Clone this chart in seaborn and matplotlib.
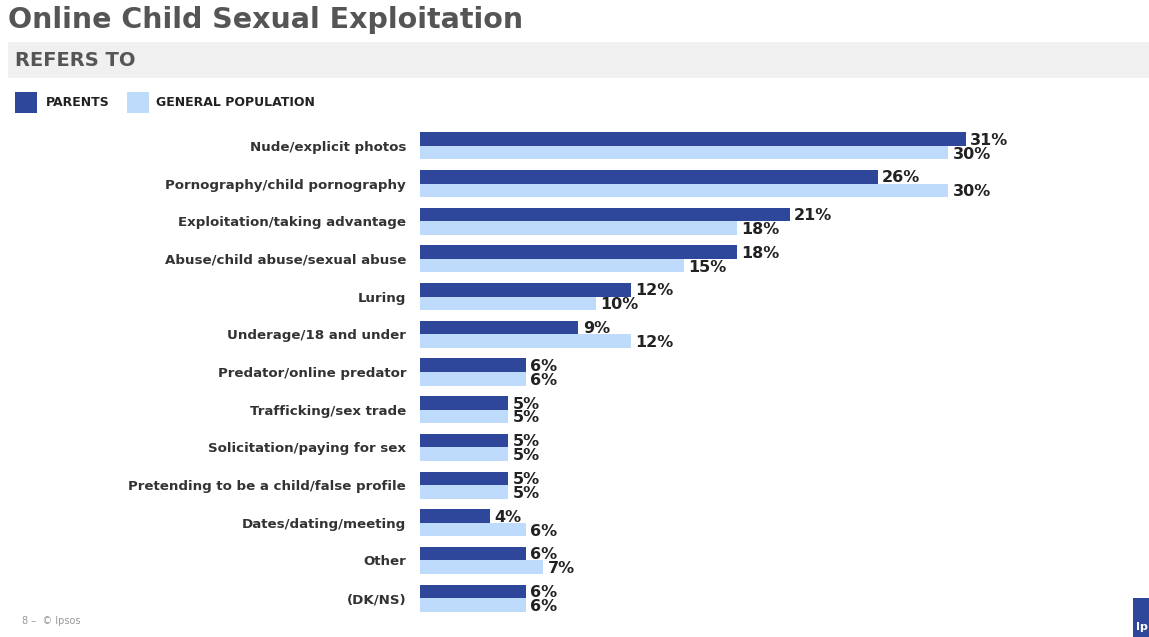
import matplotlib
matplotlib.use("Agg")
import matplotlib.pyplot as plt
import seaborn as sns
import pandas as pd
from matplotlib.patches import Rectangle

categories = [
    "Nude/explicit photos",
    "Pornography/child pornography",
    "Exploitation/taking advantage",
    "Abuse/child abuse/sexual abuse",
    "Luring",
    "Underage/18 and under",
    "Predator/online predator",
    "Trafficking/sex trade",
    "Solicitation/paying for sex",
    "Pretending to be a child/false profile",
    "Dates/dating/meeting",
    "Other",
    "(DK/NS)",
]
parents = [31, 26, 21, 18, 12, 9, 6, 5, 5, 5, 4, 6, 6]
general_population = [30, 30, 18, 15, 10, 12, 6, 5, 5, 5, 6, 7, 6]
series_names = ["PARENTS", "GENERAL POPULATION"]
colors = ["#2E479B", "#BEDBFB"]

df = pd.DataFrame({
    "category": categories * 2,
    "value": parents + general_population,
    "series": [series_names[0]] * len(categories) + [series_names[1]] * len(categories),
})

sns.set_theme(style="white")
plt.rcParams["font.family"] = ["DejaVu Sans"]

W, H = 1149, 637
fig = plt.figure(figsize=(W / 100, H / 100), dpi=100)

def px(x, y):
    return x / W, 1 - y / H

# axes placed in pixel space
left, right, top, bottom = 420, 1060, 127, 617
ax = fig.add_axes([left / W, 1 - bottom / H, (right - left) / W, (bottom - top) / H])

sns.barplot(data=df, y="category", x="value", hue="series", hue_order=series_names,
            order=categories, palette=colors, width=0.72, orient="h",
            saturation=1, ax=ax, legend=False, edgecolor="none")

scale = 17.6  # pixels per percent
ax.set_xlim(0, (right - left) / scale)
ax.set_ylim(len(categories) - 0.5, -0.5)
ax.set_xlabel("")
ax.set_ylabel("")
ax.set_xticks([])
ax.tick_params(axis="y", length=0, pad=10, labelsize=9.6, labelcolor="#333333")
for s in ax.spines.values():
    s.set_visible(False)
for lbl in ax.get_yticklabels():
    lbl.set_fontweight("bold")

# value labels
for i, (p, g) in enumerate(zip(parents, general_population)):
    ax.text(p + 0.25, i - 0.15, f"{p}%", va="center", ha="left", fontsize=11.5,
            fontweight="bold", color="#222222")
    ax.text(g + 0.25, i + 0.22, f"{g}%", va="center", ha="left", fontsize=11.5,
            fontweight="bold", color="#222222")

# title and header band
fig.text(*px(8, 20), "Online Child Sexual Exploitation", fontsize=20.5, fontweight="bold",
         color="#555555", va="center", ha="left")
fig.add_artist(Rectangle(px(8, 78), (W - 8) / W, 36 / H, transform=fig.transFigure,
                         facecolor="#F0F0F0", edgecolor="none"))
fig.text(*px(15, 61), "REFERS TO", fontsize=14, fontweight="bold", color="#555555",
         va="center", ha="left")

# legend
fig.add_artist(Rectangle(px(15, 113), 22 / W, 21 / H, transform=fig.transFigure,
                         facecolor=colors[0], edgecolor="none"))
fig.text(*px(46, 103), series_names[0], fontsize=9, fontweight="bold", color="#222222",
         va="center", ha="left")
fig.add_artist(Rectangle(px(127, 113), 22 / W, 21 / H, transform=fig.transFigure,
                         facecolor=colors[1], edgecolor="none"))
fig.text(*px(156, 103), series_names[1], fontsize=9, fontweight="bold", color="#222222",
         va="center", ha="left")

# footer
fig.text(*px(22, 621), "8 –  © Ipsos", fontsize=7, color="#999999", va="center", ha="left")
fig.add_artist(Rectangle(px(1133, 637), 16 / W, 39 / H, transform=fig.transFigure,
                         facecolor="#2E479B", edgecolor="none"))
fig.text(*px(1136, 627), "Ip", fontsize=8, fontweight="bold", color="white",
         va="center", ha="left")

fig.savefig("out.png", dpi=100)
